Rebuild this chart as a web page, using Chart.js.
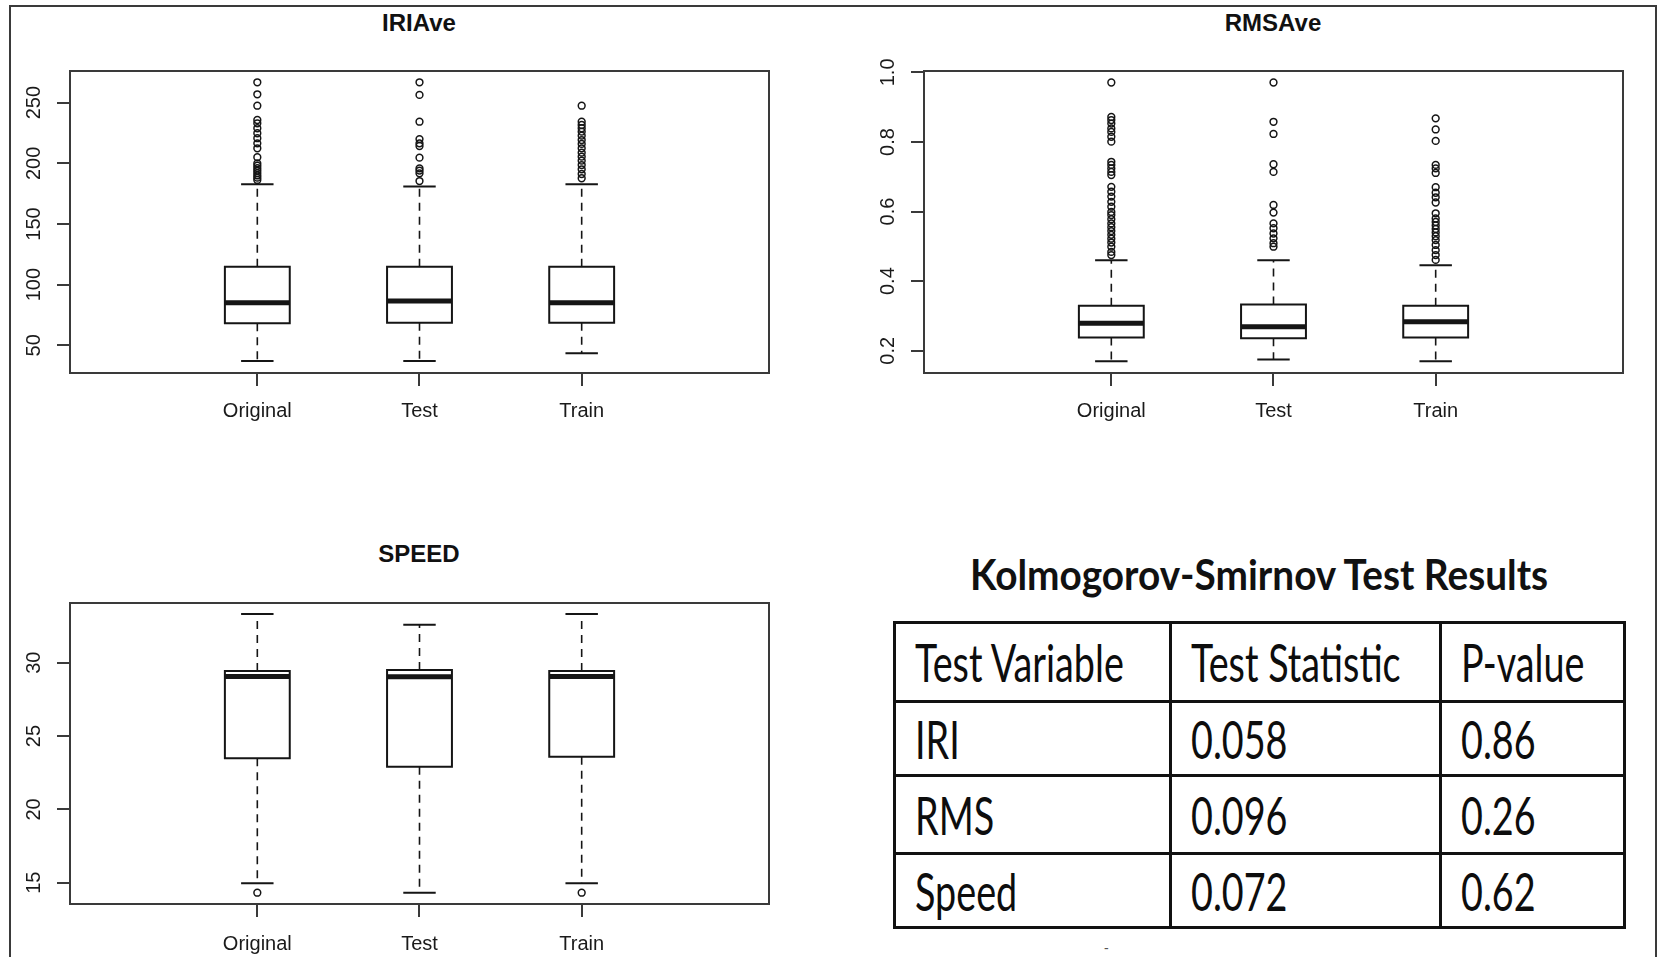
<!DOCTYPE html>
<html>
<head>
<meta charset="utf-8">
<title>IRI / RMS / Speed boxplots</title>
<script src="https://cdn.jsdelivr.net/npm/chart.js@4.4.0/dist/chart.umd.min.js"></script>
<style>
  html, body { margin: 0; padding: 0; background: #fff; }
  body { width: 1657px; height: 957px; position: relative; overflow: hidden; font-family: "Liberation Sans", Arial, sans-serif; }
  #frame { position: absolute; left: 9px; top: 5px; width: 1648px; height: 1000px; border: 2px solid #3a3a3a; border-bottom: none; box-sizing: border-box; }
  canvas { position: absolute; }
  #iri { left: 12px; top: 40px; }
  #rms { left: 842px; top: 40px; }
  #speed { left: 12px; top: 572px; }
  .plot-title { position: absolute; width: 400px; text-align: center; font: bold 24px "Liberation Sans", Arial, sans-serif; line-height: 24px; color: #111; }
  #ks-title { position: absolute; left: 859px; width: 800px; top: 549px; text-align: center; font: 700 42px Lato, sans-serif; line-height: 50px; color: #111; white-space: nowrap; }
  #ks-title span { display: inline-block; transform-origin: 50% 50%; }
  #ks { position: absolute; left: 893px; top: 621px; border-collapse: collapse; table-layout: fixed; width: 730px; }
  #ks td { border: 3px solid #111; padding: 0 0 0 19px; font: 400 52px Lato, sans-serif; line-height: 52px; color: #0d0d0d; vertical-align: middle; white-space: nowrap; overflow: hidden; }
  #ks td span { display: inline-block; transform-origin: 0 50%; }
  #dash { position: absolute; left: 1104px; top: 940px; font: 14px "Liberation Sans", Arial, sans-serif; color: #555; }
</style>
</head>
<body>
<div id="frame"></div>

<div class="plot-title" style="left:219px; top:11px;">IRIAve</div>
<div class="plot-title" style="left:1073px; top:11px;">RMSAve</div>
<div class="plot-title" style="left:219px; top:542px;">SPEED</div>

<canvas id="iri" width="816" height="400"></canvas>
<canvas id="rms" width="800" height="400"></canvas>
<canvas id="speed" width="816" height="385"></canvas>

<div id="ks-title"><span>Kolmogorov-Smirnov Test Results</span></div>
<table id="ks">
  <colgroup><col style="width:276px"><col style="width:270px"><col style="width:184px"></colgroup>
  <tbody id="ks-body"></tbody>
</table>
<div id="dash">-</div>

<script>
// categories and box positions on the x axis
const categories = ['Original', 'Test', 'Train'];
const xPositions = [1, 2, 3];

// IRIAve
const iriLower = [37.1, 37.1, 43.4];
const iriQ1 = [68.1, 68.6, 68.6];
const iriMedian = [85.1, 86.5, 85.1];
const iriQ3 = [114.8, 114.8, 114.8];
const iriUpper = [182.7, 181.0, 182.7];
const iriOutOriginal = [266.8, 256.9, 247.5, 235.7, 233.0, 228.9, 224.8, 220.7, 216.5, 212.4, 205.0, 200.0, 198.0, 196.0, 194.0, 192.0, 190.0, 188.2, 186.3];
const iriOutTest = [266.8, 256.4, 234.3, 220.0, 216.5, 214.3, 204.7, 195.9, 194.0, 191.8, 185.4];
const iriOutTrain = [247.5, 234.3, 231.6, 228.9, 226.1, 222.8, 219.2, 216.0, 212.4, 208.8, 205.5, 202.2, 198.6, 195.1, 191.2, 187.7];
const iriTicks = [50, 100, 150, 200, 250];
const iriTickLabels = ['50', '100', '150', '200', '250'];

// RMSAve
const rmsLower = [0.170, 0.175, 0.170];
const rmsQ1 = [0.238, 0.236, 0.238];
const rmsMedian = [0.279, 0.269, 0.283];
const rmsQ3 = [0.329, 0.333, 0.329];
const rmsUpper = [0.460, 0.460, 0.446];
const rmsOutOriginal = [0.971, 0.872, 0.863, 0.853, 0.839, 0.829, 0.815, 0.801, 0.743, 0.734, 0.724, 0.714, 0.705, 0.671, 0.657, 0.643, 0.628, 0.614, 0.599, 0.590, 0.578, 0.566, 0.555, 0.544, 0.533, 0.522, 0.511, 0.499, 0.484, 0.475];
const rmsOutTest = [0.971, 0.858, 0.823, 0.736, 0.714, 0.619, 0.597, 0.566, 0.552, 0.537, 0.523, 0.509, 0.499];
const rmsOutTrain = [0.868, 0.836, 0.803, 0.734, 0.724, 0.711, 0.670, 0.654, 0.641, 0.626, 0.595, 0.580, 0.570, 0.560, 0.550, 0.540, 0.529, 0.518, 0.504, 0.489, 0.475, 0.461];
const rmsTicks = [0.2, 0.4, 0.6, 0.8, 1.0];
const rmsTickLabels = ['0.2', '0.4', '0.6', '0.8', '1.0'];

// SPEED
const spdLower = [14.96, 14.32, 14.96];
const spdQ1 = [23.48, 22.91, 23.59];
const spdMedian = [29.06, 29.04, 29.06];
const spdQ3 = [29.43, 29.50, 29.43];
const spdUpper = [33.32, 32.59, 33.32];
const spdOutOriginal = [14.32];
const spdOutTest = [];
const spdOutTrain = [14.32];
const spdTicks = [15, 20, 25, 30];
const spdTickLabels = ['15', '20', '25', '30'];

// Kolmogorov-Smirnov table
const ksHeader = ['Test Variable', 'Test Statistic', 'P-value'];
const ksVariables = ['IRI', 'RMS', 'Speed'];
const ksStatistic = ['0.058', '0.096', '0.072'];
const ksPValue = ['0.86', '0.26', '0.62'];

Chart.defaults.font.family = '"Liberation Sans", Arial, sans-serif';
Chart.defaults.color = '#1a1a1a';

const X_MIN = -0.155, X_MAX = 4.155;
const BOX_HALF = 0.2, CAP_HALF = 0.1;
const Y_AXIS_W = 50, X_AXIS_H = 50;
const INK = '#151515';

// box around the plot region + rotated y tick labels (R style)
const plotFrame = {
    id: 'plotFrame',
    afterDraw(chart, args, opts) {
        const ctx = chart.ctx;
        const a = chart.chartArea;
        const y = chart.scales.y;
        ctx.save();
        ctx.strokeStyle = '#3a3a3a';
        ctx.lineWidth = 2;
        ctx.strokeRect(a.left, a.top, a.right - a.left, a.bottom - a.top);
        ctx.fillStyle = '#1a1a1a';
        ctx.font = '20px "Liberation Sans", Arial, sans-serif';
        ctx.textAlign = 'center';
        ctx.textBaseline = 'middle';
        y.ticks.forEach((t, i) => {
            ctx.save();
            ctx.translate(a.left - 36, y.getPixelForValue(t.value));
            ctx.rotate(-Math.PI / 2);
            ctx.fillText(opts.labels[i], 0, 0);
            ctx.restore();
        });
        ctx.restore();
    }
};

function boxDatasets(lower, q1, median, q3, upper, outliers) {
    const boxes = [], medians = [], whiskers = [], caps = [], points = [];
    xPositions.forEach((x, i) => {
        boxes.push({x: x - BOX_HALF, y: q1[i]}, {x: x + BOX_HALF, y: q1[i]}, {x: x + BOX_HALF, y: q3[i]},
                   {x: x - BOX_HALF, y: q3[i]}, {x: x - BOX_HALF, y: q1[i]}, {x: x, y: null});
        medians.push({x: x - BOX_HALF, y: median[i]}, {x: x + BOX_HALF, y: median[i]}, {x: x, y: null});
        whiskers.push({x: x, y: q3[i]}, {x: x, y: upper[i]}, {x: x, y: null},
                      {x: x, y: q1[i]}, {x: x, y: lower[i]}, {x: x, y: null});
        caps.push({x: x - CAP_HALF, y: upper[i]}, {x: x + CAP_HALF, y: upper[i]}, {x: x, y: null},
                  {x: x - CAP_HALF, y: lower[i]}, {x: x + CAP_HALF, y: lower[i]}, {x: x, y: null});
        outliers[i].forEach(v => points.push({x: x, y: v}));
    });
    const seg = {showLine: true, pointRadius: 0, pointHoverRadius: 0, spanGaps: false, borderColor: INK, fill: false};
    return [
        Object.assign({label: 'median', data: medians, borderWidth: 5, borderCapStyle: 'butt'}, seg),
        Object.assign({label: 'box', data: boxes, borderWidth: 2, borderCapStyle: 'square', borderJoinStyle: 'miter'}, seg),
        Object.assign({label: 'whisker', data: whiskers, borderWidth: 1.6, borderDash: [8, 6]}, seg),
        Object.assign({label: 'cap', data: caps, borderWidth: 2}, seg),
        {label: 'outlier', data: points, showLine: false, pointRadius: 3.4, pointBorderWidth: 1.5,
         pointBackgroundColor: 'rgba(255,255,255,0)', pointBorderColor: INK}
    ];
}

function boxChart(id, area, datasets, yMin, yMax, yTicks, yLabels, labelPad) {
    const canvas = document.getElementById(id);
    const left = canvas.offsetLeft, top = canvas.offsetTop;
    return new Chart(canvas, {
        type: 'scatter',
        data: { datasets: datasets },
        options: {
            responsive: false,
            animation: false,
            events: [],
            devicePixelRatio: 1,
            layout: {
                padding: {
                    left: area.left - left - Y_AXIS_W,
                    top: area.top - top,
                    right: left + canvas.width - area.right,
                    bottom: top + canvas.height - area.bottom - X_AXIS_H
                }
            },
            scales: {
                x: {
                    type: 'linear',
                    min: X_MIN,
                    max: X_MAX,
                    afterBuildTicks: s => { s.ticks = xPositions.map(v => ({value: v})); },
                    afterFit: s => { s.height = X_AXIS_H; },
                    ticks: {
                        autoSkip: false,
                        maxRotation: 0,
                        padding: labelPad,
                        color: '#1a1a1a',
                        font: { size: 20 },
                        callback: (v, i) => categories[i]
                    },
                    grid: { drawOnChartArea: false, drawTicks: true, tickLength: 13, color: '#3a3a3a', lineWidth: 2 },
                    border: { display: false }
                },
                y: {
                    type: 'linear',
                    min: yMin,
                    max: yMax,
                    afterBuildTicks: s => { s.ticks = yTicks.map(v => ({value: v})); },
                    afterFit: s => { s.width = Y_AXIS_W; },
                    ticks: { display: false },
                    grid: { drawOnChartArea: false, drawTicks: true, tickLength: 13, color: '#3a3a3a', lineWidth: 2 },
                    border: { display: false }
                }
            },
            plugins: {
                legend: { display: false },
                tooltip: { enabled: false },
                plotFrame: { labels: yLabels }
            }
        },
        plugins: [plotFrame]
    });
}

boxChart('iri', {left: 70, top: 71, right: 769, bottom: 373},
    boxDatasets(iriLower, iriQ1, iriMedian, iriQ3, iriUpper, [iriOutOriginal, iriOutTest, iriOutTrain]),
    27.2, 276.1, iriTicks, iriTickLabels, 13);

boxChart('rms', {left: 924, top: 71, right: 1623, bottom: 373},
    boxDatasets(rmsLower, rmsQ1, rmsMedian, rmsQ3, rmsUpper, [rmsOutOriginal, rmsOutTest, rmsOutTrain]),
    0.136, 1.004, rmsTicks, rmsTickLabels, 13);

boxChart('speed', {left: 70, top: 603, right: 769, bottom: 904},
    boxDatasets(spdLower, spdQ1, spdMedian, spdQ3, spdUpper, [spdOutOriginal, spdOutTest, spdOutTrain]),
    13.55, 34.07, spdTicks, spdTickLabels, 15);

// KS results table
const rowHeights = [79, 74, 78, 74];
const body = document.getElementById('ks-body');
const rows = [ksHeader].concat(ksVariables.map((v, i) => [v, ksStatistic[i], ksPValue[i]]));
rows.forEach((r, ri) => {
    const tr = document.createElement('tr');
    tr.style.height = rowHeights[ri] + 'px';
    r.forEach(text => {
        const td = document.createElement('td');
        const span = document.createElement('span');
        span.textContent = text;
        td.appendChild(span);
        tr.appendChild(td);
    });
    body.appendChild(tr);
});

// the table image is horizontally squeezed, so narrow the text to fit
const refSpan = body.querySelector('td span');
const cellScale = 209 / refSpan.offsetWidth;
body.querySelectorAll('td span').forEach(s => { s.style.transform = 'scaleX(' + cellScale + ')'; });

const titleSpan = document.querySelector('#ks-title span');
titleSpan.style.transform = 'scaleX(' + (578 / titleSpan.offsetWidth) + ')';
</script>
</body>
</html>
